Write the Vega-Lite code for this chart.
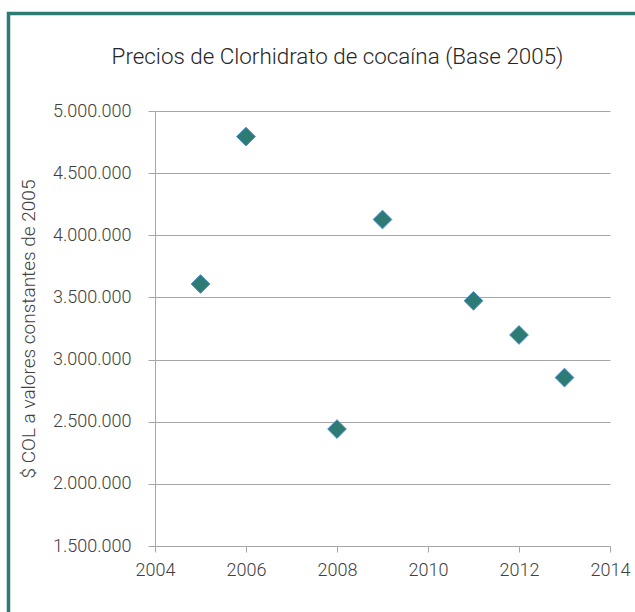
{
  "$schema": "https://vega.github.io/schema/vega-lite/v6.json",
  "width": 455,
  "height": 435,
  "autosize": {"type": "none"},
  "padding": {"left": 155, "top": 111, "right": 25, "bottom": 66},
  "background": "white",
  "config": {
    "locale": {"number": {"decimal": ",", "thousands": ".", "grouping": [3], "currency": ["$", ""]}},
    "view": {"stroke": null},
    "font": "Roboto"
  },
  "title": {
    "text": "Precios de Clorhidrato de cocaína (Base 2005)",
    "fontSize": 22.4,
    "fontWeight": 300,
    "color": "#262626",
    "anchor": "middle",
    "frame": "group",
    "offset": 40,
    "dy": 97,
    "dx": -45
  },
  "layer": [
    {
      "data": {"values": [{}]},
      "mark": {"type": "rect", "fill": null, "stroke": "#2e7b74", "strokeWidth": 3.5},
      "encoding": {
        "x": {"value": -146.5},
        "x2": {"value": 500},
        "y": {"value": -97.5},
        "y2": {"value": 520}
      }
    },
    {
      "data": {
        "values": [
          {"anio": 2005, "precio": 3608000},
          {"anio": 2006, "precio": 4794000},
          {"anio": 2008, "precio": 2441000},
          {"anio": 2009, "precio": 4127000},
          {"anio": 2011, "precio": 3473000},
          {"anio": 2012, "precio": 3198000},
          {"anio": 2013, "precio": 2855000}
        ]
      },
      "mark": {"type": "point", "shape": "diamond", "filled": true, "fill": "#2e7b74", "stroke": "#4a8fd0", "strokeWidth": 1, "size": 350, "opacity": 1},
      "encoding": {
        "x": {
          "field": "anio",
          "type": "quantitative",
          "scale": {"domain": [2004, 2014], "nice": false, "zero": false},
          "axis": {
            "values": [2004, 2006, 2008, 2010, 2012, 2014],
            "format": "d",
            "title": null,
            "grid": false,
            "domainColor": "#a6a6a6",
            "tickColor": "#a6a6a6",
            "tickSize": 6,
            "labelPadding": 9,
            "labelFontSize": 18,
            "labelFontWeight": 300,
            "labelColor": "#404040",
            "labelFlush": false
          }
        },
        "y": {
          "field": "precio",
          "type": "quantitative",
          "scale": {"domain": [1500000, 5000000], "nice": false, "zero": false},
          "axis": {
            "values": [1500000, 2000000, 2500000, 3000000, 3500000, 4000000, 4500000, 5000000],
            "format": ",.0f",
            "title": "$ COL a valores constantes de 2005",
            "titleFontSize": 19,
            "titleFontWeight": 300,
            "titleColor": "#404040",
            "titlePadding": 14,
            "grid": true,
            "gridColor": "#a6a6a6",
            "gridWidth": 1,
            "domainColor": "#a6a6a6",
            "tickColor": "#a6a6a6",
            "tickSize": 7,
            "labelPadding": 17,
            "labelFontSize": 18,
            "labelFontWeight": 300,
            "labelColor": "#404040"
          }
        }
      }
    }
  ]
}
